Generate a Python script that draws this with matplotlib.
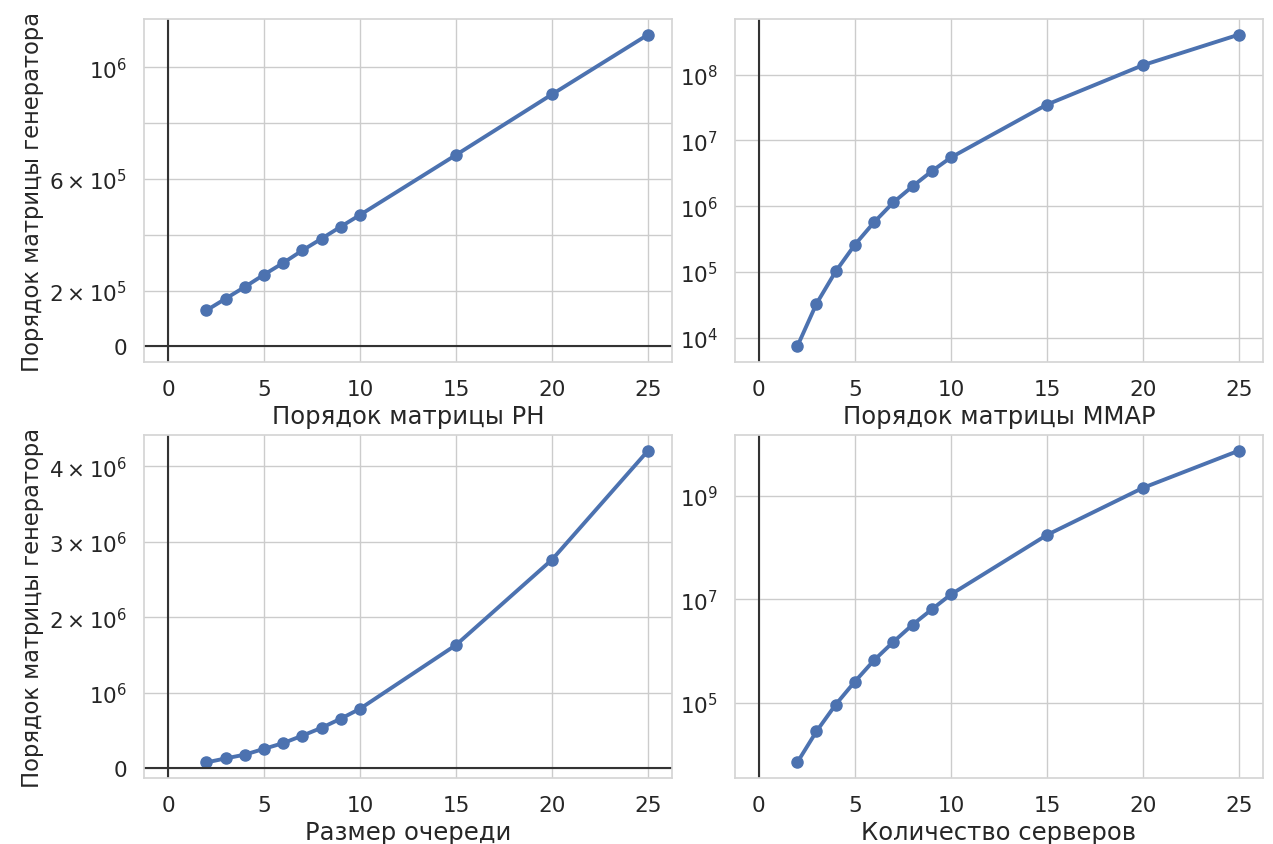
import numpy as np
import matplotlib
matplotlib.use('Agg')
import matplotlib.pyplot as plt
import seaborn as sns

# Данные
n = [2, 3, 4, 5, 6, 7, 8, 9, 10, 15, 20, 25]
ph = [1.29e5, 1.71e5, 2.13e5, 2.57e5, 2.99e5, 3.44e5, 3.86e5, 4.29e5, 4.71e5, 6.86e5, 9.03e5, 1.117e6]
mmap = [7.4e3, 3.3e4, 1.02e5, 2.6e5, 5.7e5, 1.14e6, 2.0e6, 3.4e6, 5.5e6, 3.5e7, 1.39e8, 4.05e8]
queue = [7.7e4, 1.3e5, 1.8e5, 2.57e5, 3.33e5, 4.32e5, 5.36e5, 6.57e5, 7.88e5, 1.634e6, 2.765e6, 4.21e6]
servers = [7.1e3, 2.83e4, 9.3e4, 2.59e5, 6.7e5, 1.51e6, 3.24e6, 6.4e6, 1.25e7, 1.76e8, 1.43e9, 7.5e9]

xlabels = ['Порядок матрицы PH', 'Порядок матрицы MMAP', 'Размер очереди', 'Количество серверов']
ylabel = 'Порядок матрицы генератора'

ph_ticks = [0, 2e5, 4e5, 6e5, 8e5, 1e6]
ph_ticklabels = ['0', r'$\mathdefault{2\times10^{5}}$', '', r'$\mathdefault{6\times10^{5}}$', '',
                 r'$\mathdefault{10^{6}}$']
queue_ticks = [0, 1e6, 2e6, 3e6, 4e6]
queue_ticklabels = ['0', r'$\mathdefault{10^{6}}$', r'$\mathdefault{2\times10^{6}}$',
                    r'$\mathdefault{3\times10^{6}}$', r'$\mathdefault{4\times10^{6}}$']
mmap_ticks = [1e4, 1e5, 1e6, 1e7, 1e8]
servers_ticks = [1e5, 1e7, 1e9]

sns.set_theme(style='whitegrid')
plt.rcParams['font.family'] = ['DejaVu Sans']

fig, axes = plt.subplots(2, 2, figsize=(12.73, 8.45), dpi=100)
fig.subplots_adjust(left=0.1131, right=0.9921, top=0.9763, bottom=0.0781, wspace=0.119, hspace=0.213)

series = [ph, mmap, queue, servers]
logscale = [False, True, False, True]
color = '#4C72B0'

for ax, y, xl, lg in zip(axes.flat, series, xlabels, logscale):
    ax.plot(n, y, 'o-', color=color, lw=2.8, ms=8)
    ax.axvline(0, color='#333333', lw=1.5)
    if lg:
        ax.set_yscale('log')
    else:
        ax.axhline(0, color='#333333', lw=1.5)
    ax.set_xlabel(xl, fontsize=17.5)
    ax.tick_params(labelsize=15.5, pad=6)
    ax.set_xticks([0, 5, 10, 15, 20, 25])
    for s in ax.spines.values():
        s.set_color('#d5d5d5')

axes[0, 0].set_yticks(ph_ticks)
axes[0, 0].set_yticklabels(ph_ticklabels)
axes[1, 0].set_yticks(queue_ticks)
axes[1, 0].set_yticklabels(queue_ticklabels)
axes[0, 1].set_yticks(mmap_ticks)
axes[0, 1].yaxis.set_minor_locator(matplotlib.ticker.NullLocator())
axes[1, 1].set_yticks(servers_ticks)
axes[1, 1].yaxis.set_minor_locator(matplotlib.ticker.NullLocator())

for ax in axes[:, 0]:
    ax.set_ylabel(ylabel, fontsize=16.3)
    ax.yaxis.set_label_coords(-0.189, 0.5)

fig.savefig('out.png', dpi=100)
